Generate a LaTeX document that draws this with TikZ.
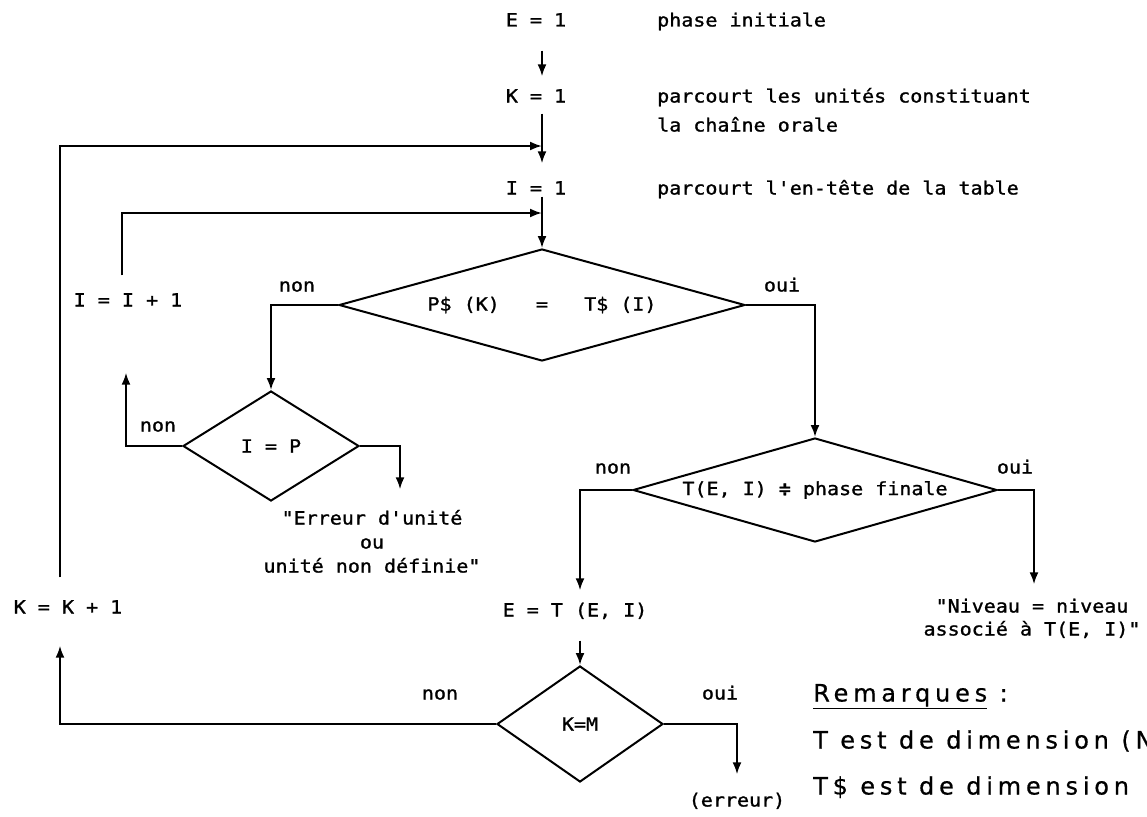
\documentclass[tikz,border=0pt]{standalone}
\usepackage{fontspec}
\setmonofont{DejaVu Sans Mono}[FakeStretch=1.1, FakeBold=1.2]
\newfontfamily\remfont{DejaVu Sans}[LetterSpace=20, FakeBold=0.6]
\usetikzlibrary{arrows.meta,shapes.geometric}
\begin{document}
\begin{tikzpicture}[x=1pt,y=-1pt,
  lbl/.style={font=\ttfamily\fontsize{18.2}{21}\selectfont, inner sep=0pt, text height=13pt, text depth=0pt},
  note/.style={lbl, anchor=west},
  dia/.style={draw, shape=diamond, line width=2pt, inner sep=0pt, font=\ttfamily\fontsize{18.2}{21}\selectfont},
  ln/.style={line width=2pt},
  arr/.style={ln, -{Latex[length=12pt,width=9pt]}},
  rem/.style={font=\remfont\fontsize{24}{27}\selectfont, anchor=west, inner sep=0pt, text height=17pt, text depth=0pt},
]
\useasboundingbox (0,0) rectangle (1147,816);
\clip (0,0) rectangle (1147,816);
\fill[white] (0,0) rectangle (1147,816);

% top texts
\node[lbl] (E1) at (536,20) {E = 1};
\node[note] (c1) at (657,20) {phase initiale};
\node[lbl] (K1) at (536,96) {K = 1};
\node[note] (c2a) at (657,96) {parcourt les unités constituant};
\node[note] (c2b) at (657,125) {la chaîne orale};
\node[lbl] (I1) at (536,188) {I = 1};
\node[note] (c3) at (657,188) {parcourt l'en-tête de la table};

% decisions
\node[dia, aspect=3.6, minimum width=406pt, minimum height=112pt] (D1) at (542,305) {P\$ (K)\ \ \ =\ \ \ T\$ (I)};
\node[lbl] (n1) at (297,285) {non};
\node[lbl] (o1) at (782,285) {oui};

\node[dia, minimum width=176pt, minimum height=110pt] (D3) at (271,446) {I = P};
\node[lbl] (n3) at (158,425) {non};
\node[lbl] (Iinc) at (128,300) {I = I + 1};
\node[lbl] (e1a) at (372,518) {"Erreur d'unité};
\node[lbl] (e1b) at (372,542) {ou};
\node[lbl] (e1c) at (372,566) {unité non définie"};

\node[dia, aspect=3.6, minimum width=364pt, minimum height=104pt] (D2) at (815,490) {T(E, I) ≑ phase finale};
\node[lbl] (n2) at (613,467) {non};
\node[lbl] (o2) at (1015,467) {oui};
\node[lbl] (ET) at (575,610) {E = T (E, I)};
\node[lbl] (nv1) at (1032,606) {"Niveau = niveau};
\node[lbl] (nv2) at (1032,629) {associé à T(E, I)"};

\node[dia, minimum width=166pt, minimum height=116pt] (D4) at (580,724) {K=M};
\node[lbl] (n4) at (440,693) {non};
\node[lbl] (o4) at (720,693) {oui};
\node[lbl] (Kinc) at (68,607) {K = K + 1};
\node[lbl] (err2) at (737,800) {(erreur)};

% remarks
\node[rem] (rm) at (813,693) {\underline{Remarques} :};
\node[rem] (r1) at (813,740) {T est de dimension (N};
\node[rem] (r2) at (813,786) {T\$ est de dimension};

% junction points
\coordinate (kj) at (542,146);
\coordinate (ij) at (542,213);

% connectors
\draw[arr] ([xshift=6pt,yshift=-24pt]E1.south) -- ([xshift=6pt,yshift=13pt]K1.north);
\draw[arr] ([xshift=6pt,yshift=-11pt]K1.south) -- ([xshift=6pt,yshift=18pt]I1.north);
\draw[arr] ([xshift=6pt,yshift=-2pt]I1.south) -- (D1.north);
\draw[arr] ([xshift=-8pt,yshift=23pt]Kinc.north) |- (kj);
\draw[arr] ([xshift=-6pt,yshift=18pt]Iinc.north) |- (ij);
\draw[arr] (D1.west) -| (D3.north);
\draw[arr] (D1.east) -| (D2.north);
\draw[arr] (D3.west) -| ([xshift=-2pt,yshift=-66pt]Iinc.south);
\draw[arr] (D3.east) -| ([xshift=28pt,yshift=22pt]e1a.north);
\draw[arr] (D2.west) -| ([xshift=5pt,yshift=13pt]ET.north);
\draw[arr] (D2.east) -| ([xshift=2pt,yshift=15pt]nv1.north);
\draw[arr] ([xshift=5pt,yshift=-24pt]ET.south) -- (D4.north);
\draw[arr] (D4.west) -| ([xshift=-8pt,yshift=-32pt]Kinc.south);
\draw[arr] (D4.east) -| ([yshift=19pt]err2.north);
\end{tikzpicture}
\end{document}
